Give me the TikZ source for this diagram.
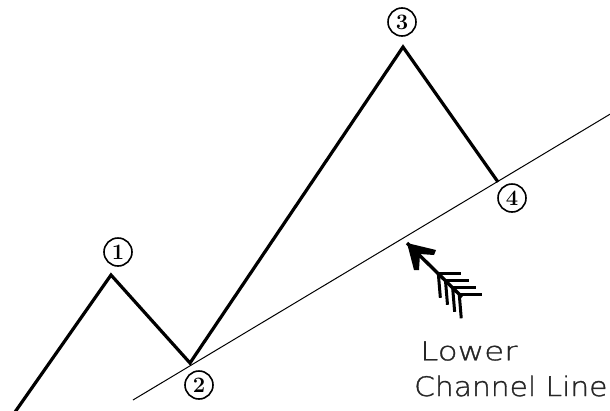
\documentclass[tikz,border=0pt]{standalone}
\usepackage{fontspec}
\usetikzlibrary{calc}
\newfontfamily\handfont[FakeStretch=1.25,FakeBold=1.2]{DejaVu Sans ExtraLight}
\newfontfamily\handfontb[FakeStretch=1.1,FakeBold=1.2]{DejaVu Sans ExtraLight}

\tikzset{
  wave/.style={line width=3.2pt, line join=miter},
  channel/.style={line width=1pt},
  tag/.style={circle, draw, line width=1.6pt, inner sep=0pt, minimum size=28pt, font=\bfseries\fontsize{22}{22}\selectfont},
  quill/.style={line width=3.4pt, line cap=butt},
  vane/.style={line width=3pt, line cap=butt},
  caption/.style={text=black!85, anchor=west, inner sep=0pt},
}

\begin{document}
\begin{tikzpicture}[x=1pt, y=-1pt]
\useasboundingbox (0,0) rectangle (610,410);

% wave points
\coordinate (p0) at (15,412);
\coordinate (p1) at (111,275);
\coordinate (p2) at (190,363);
\coordinate (p3) at (403,47);
\coordinate (p4) at (498,182);

% lower channel line ends
\coordinate (cL) at (133,400);
\coordinate (cR) at (612,113);

% labels
\node[tag] (t1) at (118,252) {1};
\node[tag] (t2) at (199,385) {2};
\node[tag] (t3) at (402,22) {3};
\node[tag] (t4) at (512,198) {4};

\draw[channel] (cL) -- (cR);
\draw[wave] (p0) -- (p1) -- (p2) -- (p3) -- (p4);

% arrow
\coordinate (tip) at (407,243);
\coordinate (tail) at (462,297);
\draw[quill] (tip) -- (tail);
\fill (tip) -- (436,250) -- (434,255) -- (420,254) -- (419,270) -- (414,270) -- cycle;
\foreach \t in {0.57,0.70,0.83,0.95} {
  \draw[vane] ($(tip)!\t!(tail)$) -- ++(23,0);
  \draw[vane] ($(tip)!\t!(tail)$) -- ++(2,24);
}

% caption
\node[caption, font=\handfont\fontsize{26}{30}\selectfont] (low) at (420,351) {Lower};
\node[caption, font=\handfontb\fontsize{27}{30}\selectfont] (chl) at (414,386) {Channel Line};
\end{tikzpicture}
\end{document}
